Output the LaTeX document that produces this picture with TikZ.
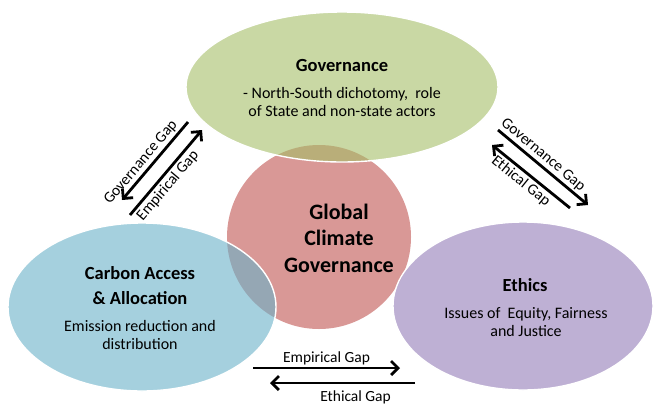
\documentclass[tikz,border=0pt]{standalone}
\usepackage{fontspec}
\setmainfont{Carlito}
\usetikzlibrary{arrows.meta}
\definecolor{govgreen}{RGB}{165,190,103}
\definecolor{corered}{RGB}{217,152,150}
\definecolor{carbonblue}{RGB}{105,177,200}
\definecolor{ethicspurple}{RGB}{147,123,183}

\begin{document}
\begin{tikzpicture}[x=1pt,y=-1pt,
    venn/.style={fill opacity=0.6,draw=white,line width=1.4pt},
    head/.style={font=\bfseries\fontsize{18.5}{25}\selectfont,align=center},
    body/.style={font=\fontsize{16}{18}\selectfont,align=center},
    gap/.style={line width=2.8pt,-{Straight Barb[length=7pt,width=14pt,line width=2.8pt]}},
    gaplabel/.style={font=\fontsize{15.5}{17}\selectfont,sloped}]
        \useasboundingbox (0,0) rectangle (655,408);
        \fill[corered] (319,237) circle (92pt);
        \filldraw[venn,fill=govgreen] (342,87) ellipse (156pt and 75pt);
        \filldraw[venn,fill=carbonblue] (142,307) ellipse (134pt and 84pt);
        \filldraw[venn,fill=ethicspurple] (523,306) ellipse (130pt and 84pt);
        \node[font=\bfseries\fontsize{22}{26.5}\selectfont,align=center] (core) at (339,238) {Global\\Climate\\Governance};
        \node[head] (gov) at (342,65) {Governance};
        \node[body] (govtext) at (342,102) {- North-South dichotomy,\ \ role\\of State and non-state actors};
        \node[head] (carbon) at (140,286) {Carbon Access\\\& Allocation};
        \node[body] (carbontext) at (140,335) {Emission reduction and\\distribution};
        \node[head] (ethics) at (525,285) {Ethics};
        \node[body] (ethicstext) at (526,322) {Issues of\ \ Equity, Fairness\\and Justice};
        \coordinate (l1) at (188,122); \coordinate (l2) at (122,200);
        \coordinate (l3) at (130,215); \coordinate (l4) at (202,130);
        \coordinate (r1) at (498,130); \coordinate (r2) at (588,205);
        \coordinate (r3) at (570,208); \coordinate (r4) at (492,145);
        \coordinate (b1) at (253,368); \coordinate (b2) at (400,368);
        \coordinate (b3) at (415,383); \coordinate (b4) at (270,383);
        \foreach \from/\to/\side/\where/\pad/\gaptext in {l1/l2/above/0.6/2pt/Governance Gap, l3/l4/below/0.42/2pt/Empirical Gap,
            r1/r2/above/0.43/2pt/Governance Gap, r3/r4/below/0.55/2pt/Ethical Gap,
            b1/b2/above/0.5/2pt/Empirical Gap, b3/b4/below/0.41/6pt/Ethical Gap}
        \draw[gap] (\from) -- (\to) node[gaplabel,pos=\where,\side,inner sep=\pad] {\gaptext};
\end{tikzpicture}
\end{document}
